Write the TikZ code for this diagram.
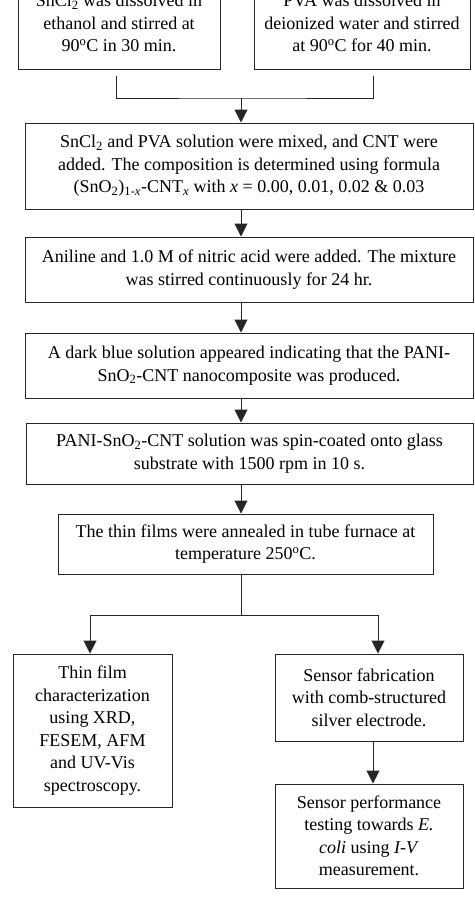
\documentclass[tikz,border=0pt]{standalone}
\usepackage{fontspec}
\setmainfont{Liberation Serif}
\usetikzlibrary{arrows.meta,calc}
\tikzset{
  box/.style={draw=black!85, line width=1pt, rectangle, inner sep=0pt, align=center,
    font=\fontsize{18}{22.5}\selectfont},
  conn/.style={draw=black!85, line width=1pt},
  arr/.style={conn, -{Triangle[width=13pt,length=13pt]}}
}
\begin{document}
\begin{tikzpicture}[x=1pt,y=-1pt]
\useasboundingbox (0,0) rectangle (474,913);
\clip (0,0) rectangle (474,913);
% top boxes (cut by the top edge)
\node[box, minimum width=202pt, minimum height=92pt] (b1) at (119,23)
  {SnCl\textsubscript{2} was dissolved in\\ethanol and stirred at\\90\textsuperscript{o}C in 30 min.};
\node[box, minimum width=216pt, minimum height=92pt] (b2) at (362,23)
  {PVA was dissolved in\\deionized water and stirred\\at 90\textsuperscript{o}C for 40 min.};
\coordinate (c1) at (116,76);
\coordinate (c2) at (373,76);
\coordinate (j1) at (241,98);
\draw[conn] (c1) |- (j1) -| (c2);
% box 3
\node[box, minimum width=448pt, minimum height=86pt] (b3) at (249,166)
  {SnCl\textsubscript{2} and PVA solution were mixed, and CNT were\\
   added. The composition is determined using formula\\
   (SnO\textsubscript{2})\textsubscript{1-\textit{x}}-CNT\textsubscript{\textit{x}} with \textit{x} = 0.00, 0.01, 0.02 \& 0.03};
\draw[arr] (j1) -- (j1 |- b3.north);
% box 4
\node[box, minimum width=448pt, minimum height=65pt] (b4) at (249,269.5)
  {Aniline and 1.0 M of nitric acid were added. The mixture\\was stirred continuously for 24 hr.};
\draw[arr] (b3.south -| j1) -- (b4.north -| j1);
% box 5
\node[box, minimum width=448pt, minimum height=65pt] (b5) at (249,365.5)
  {A dark blue solution appeared indicating that the PANI-\\SnO\textsubscript{2}-CNT nanocomposite was produced.};
\draw[arr] (b4.south -| j1) -- (b5.north -| j1);
% box 6
\node[box, minimum width=447pt, minimum height=61pt] (b6) at (249.5,453.5)
  {PANI-SnO\textsubscript{2}-CNT solution was spin-coated onto glass\\substrate with 1500 rpm in 10 s.};
\draw[arr] (b5.south -| j1) -- (b6.north -| j1);
% box 7
\node[box, minimum width=375pt, minimum height=60pt] (b7) at (245.5,544)
  {The thin films were annealed in tube furnace at\\temperature 250\textsuperscript{o}C.};
\draw[arr] (b6.south -| j1) -- (b7.north -| j1);
% split
\coordinate (j2) at (241,615);
\coordinate (j3) at (90,615);
\coordinate (j4) at (378,615);
\draw[conn] (b7.south -| j2) -- (j2);
\draw[conn] (j3) -- (j4);
% box 8
\node[box, minimum width=159pt, minimum height=153pt] (b8) at (92.5,730.5)
  {Thin film\\characterization\\using XRD,\\FESEM, AFM\\and UV-Vis\\spectroscopy.};
% box 9
\node[box, minimum width=188pt, minimum height=87pt] (b9) at (369,697.5)
  {Sensor fabrication\\with comb-structured\\silver electrode.};
% box 10
\node[box, minimum width=188pt, minimum height=104pt] (b10) at (369,836)
  {Sensor performance\\testing towards \textit{E.}\\\textit{coli} using \textit{I-V}\\measurement.};
\draw[arr] (j3) -- (j3 |- b8.north);
\draw[arr] (j4) -- (j4 |- b9.north);
\draw[arr] ([xshift=4pt]b9.south) -- ([xshift=4pt]b10.north);
\end{tikzpicture}
\end{document}
